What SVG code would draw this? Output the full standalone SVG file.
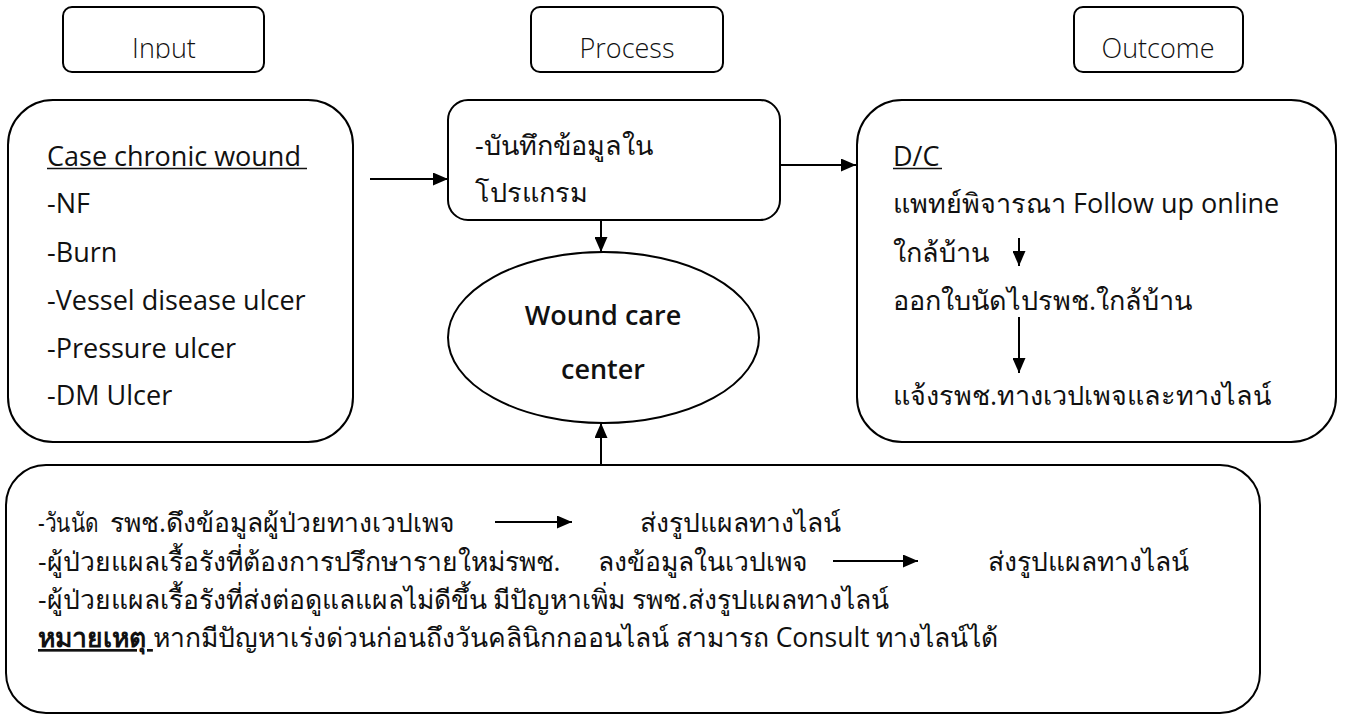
<svg xmlns="http://www.w3.org/2000/svg" width="1345" height="716" viewBox="0 0 1345 716">
<style>
.box{fill:#fff;stroke:#000;stroke-width:2}
.t{font-family:"Open Sans","Noto Sans","DejaVu Sans",sans-serif;fill:#111}
.h{font-size:27px;font-weight:300;text-anchor:middle}
.b{font-size:27px}
.s{font-size:26.5px}
.c{stroke:#000;stroke-width:2;fill:none}
.u{stroke:#111;stroke-width:1.6}
</style>
<defs>
<marker id="ah" markerUnits="userSpaceOnUse" markerWidth="15" markerHeight="13" refX="15" refY="6.5" orient="auto">
<path d="M0,0 L15,6.5 L0,13 z" fill="#000"/>
</marker>
<clipPath id="hc"><rect x="0" y="0" width="1345" height="58.5"/></clipPath>
</defs>
<rect width="1345" height="716" fill="#fff"/>

<g id="header-input">
<rect class="box" x="63" y="7" width="201" height="65" rx="9"/>
<text class="t h" x="164" y="58" clip-path="url(#hc)">Input</text>
</g>
<g id="header-process">
<rect class="box" x="531" y="7" width="192" height="65" rx="9"/>
<text class="t h" x="627" y="58" clip-path="url(#hc)">Process</text>
</g>
<g id="header-outcome">
<rect class="box" x="1074" y="7" width="169" height="65" rx="9"/>
<text class="t h" x="1158" y="58" clip-path="url(#hc)">Outcome</text>
</g>

<g id="node-input">
<rect class="box" x="8" y="100" width="345" height="342" rx="45"/>
<text class="t b" x="47" y="166">Case chronic wound</text>
<line class="u" x1="47" y1="168.5" x2="307" y2="168.5"/>
<text class="t b" x="47" y="213">-NF</text>
<text class="t b" x="47" y="262">-Burn</text>
<text class="t b" x="47" y="310">-Vessel disease ulcer</text>
<text class="t b" x="47" y="358">-Pressure ulcer</text>
<text class="t b" x="47" y="405">-DM Ulcer</text>
</g>

<g id="node-process">
<rect class="box" x="448" y="100" width="332" height="120" rx="20"/>
<text class="t b" x="475" y="155">-บันทึกข้อมูลใน</text>
<text class="t b" x="475" y="202">โปรแกรม</text>
</g>

<g id="node-woundcare">
<ellipse class="box" cx="603.5" cy="337.5" rx="155.5" ry="85.5"/>
<text class="t b" x="603" y="325" text-anchor="middle" font-weight="600">Wound care</text>
<text class="t b" x="603" y="379" text-anchor="middle" font-weight="600">center</text>
</g>

<g id="node-outcome">
<rect class="box" x="857" y="100" width="479" height="342" rx="45"/>
<text class="t b" x="893" y="166">D/C</text>
<line class="u" x1="893" y1="168.5" x2="942" y2="168.5"/>
<text class="t b" x="893" y="213">แพทย์พิจารณา Follow up online</text>
<text class="t b" x="893" y="262">ใกล้บ้าน</text>
<text class="t b" x="893" y="310">ออกใบนัดไปรพช.ใกล้บ้าน</text>
<text class="t b" x="893" y="405">แจ้งรพช.ทางเวปเพจและทางไลน์</text>
</g>

<g id="node-bottom">
<rect class="box" x="6" y="465" width="1254" height="248" rx="40"/>
<text class="t s" x="38" y="532" textLength="60" lengthAdjust="spacingAndGlyphs">-วันนัด</text>
<text class="t s" x="110" y="532">รพช.ดึงข้อมูลผู้ป่วยทางเวปเพจ</text>
<text class="t s" x="640" y="532">ส่งรูปแผลทางไลน์</text>
<text class="t s" x="38" y="571">-ผู้ป่วยแผลเรื้อรังที่ต้องการปรึกษารายใหม่รพช.</text>
<text class="t s" x="598" y="571">ลงข้อมูลในเวปเพจ</text>
<text class="t s" x="988" y="571">ส่งรูปแผลทางไลน์</text>
<text class="t s" x="38" y="609">-ผู้ป่วยแผลเรื้อรังที่ส่งต่อดูแลแผลไม่ดีขึ้น มีปัญหาเพิ่ม รพช.ส่งรูปแผลทางไลน์</text>
<text class="t s" x="38" y="647"><tspan font-weight="700" text-decoration="underline">หมายเหตุ </tspan><tspan>หากมีปัญหาเร่งด่วนก่อนถึงวันคลินิกกออนไลน์ สามารถ Consult ทางไลน์ได้</tspan></text>
</g>

<g id="connectors">
<line class="c" x1="370" y1="179" x2="448" y2="179" marker-end="url(#ah)"/>
<line class="c" x1="780" y1="165" x2="856" y2="165" marker-end="url(#ah)"/>
<line class="c" x1="601" y1="220" x2="601" y2="252" marker-end="url(#ah)"/>
<line class="c" x1="601" y1="465" x2="601" y2="423" marker-end="url(#ah)"/>
<line class="c" x1="1019" y1="238" x2="1019" y2="266" marker-end="url(#ah)"/>
<line class="c" x1="1019" y1="317" x2="1019" y2="373" marker-end="url(#ah)"/>
<line class="c" x1="495" y1="522" x2="572" y2="522" marker-end="url(#ah)"/>
<line class="c" x1="833" y1="561" x2="918" y2="561" marker-end="url(#ah)"/>
</g>
</svg>
